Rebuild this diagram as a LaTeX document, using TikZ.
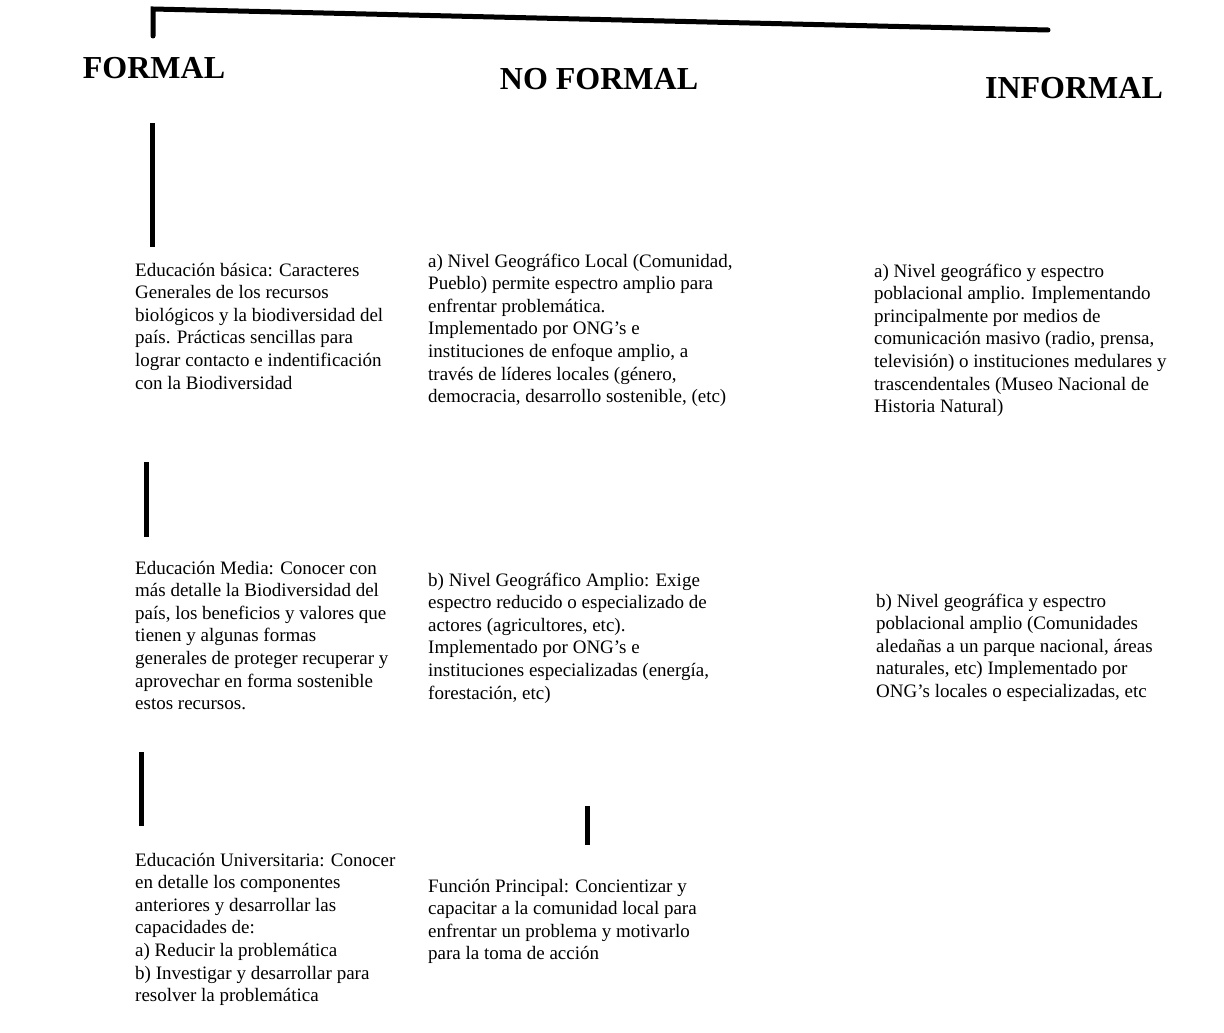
\documentclass[tikz,border=0pt]{standalone}
\usepackage{fontspec}
\setmainfont{Liberation Serif}
\begin{document}
\begin{tikzpicture}[x=1pt,y=-1pt,
  head/.style={inner sep=0pt, anchor=base, font={\fontsize{32}{36}\selectfont\bfseries}},
  body/.style={inner sep=0pt, anchor=north west, align=left, font={\fontsize{19}{22.6}\selectfont}},
  bar/.style={line width=5pt}]
\useasboundingbox (0,0) rectangle (1224,1033);
% headings
\node[head] (hF) at (154,78) {FORMAL};
\node[head] (hN) at (599,89) {NO FORMAL};
\node[head] (hI) at (1074,99) {INFORMAL};
% top bracket
\coordinate (t0) at (153,36);
\coordinate (t1) at (153,9);
\coordinate (t2) at (1048,30);
\draw[bar, line cap=round] (t0) -- (t1) -- (t2);
% formal column
\node[body] (f1) at (135,260) {\strut Educación básica: Caracteres\\
Generales de los recursos\\
biológicos y la biodiversidad del\\
país. Prácticas sencillas para\\
lograr contacto e indentificación\\
con la Biodiversidad};
\node[body] (f2) at (135,558) {\strut Educación Media: Conocer con\\
más detalle la Biodiversidad del\\
país, los beneficios y valores que\\
tienen y algunas formas\\
generales de proteger recuperar y\\
aprovechar en forma sostenible\\
estos recursos.};
\node[body] (f3) at (135,850) {\strut Educación Universitaria: Conocer\\
en detalle los componentes\\
anteriores y desarrollar las\\
capacidades de:\\
a) Reducir la problemática\\
b) Investigar y desarrollar para\\
resolver la problemática};
% no formal column
\node[body] (n1) at (428,251) {\strut a) Nivel Geográfico Local (Comunidad,\\
Pueblo) permite espectro amplio para\\
enfrentar problemática.\\
Implementado por ONG’s e\\
instituciones de enfoque amplio, a\\
través de líderes locales (género,\\
democracia, desarrollo sostenible, (etc)};
\node[body] (n2) at (428,570) {\strut b) Nivel Geográfico Amplio: Exige\\
espectro reducido o especializado de\\
actores (agricultores, etc).\\
Implementado por ONG’s e\\
instituciones especializadas (energía,\\
forestación, etc)};
\node[body] (n3) at (428,876) {\strut Función Principal: Concientizar y\\
capacitar a la comunidad local para\\
enfrentar un problema y motivarlo\\
para la toma de acción};
% informal column
\node[body] (i1) at (874,261) {\strut a) Nivel geográfico y espectro\\
poblacional amplio. Implementando\\
principalmente por medios de\\
comunicación masivo (radio, prensa,\\
televisión) o instituciones medulares y\\
trascendentales (Museo Nacional de\\
Historia Natural)};
\node[body] (i2) at (876,591) {\strut b) Nivel geográfica y espectro\\
poblacional amplio (Comunidades\\
aledañas a un parque nacional, áreas\\
naturales, etc) Implementado por\\
ONG’s locales o especializadas, etc};
% vertical bars
\coordinate (v1a) at (152,123); \coordinate (v1b) at (152,247);
\coordinate (v2a) at (146,462); \coordinate (v2b) at (146,537);
\coordinate (v3a) at (141,752); \coordinate (v3b) at (141,826);
\coordinate (v4a) at (587,806); \coordinate (v4b) at (587,845);
\draw[bar] (v1a) -- (v1b);
\draw[bar] (v2a) -- (v2b);
\draw[bar] (v3a) -- (v3b);
\draw[bar] (v4a) -- (v4b);
\end{tikzpicture}
\end{document}
